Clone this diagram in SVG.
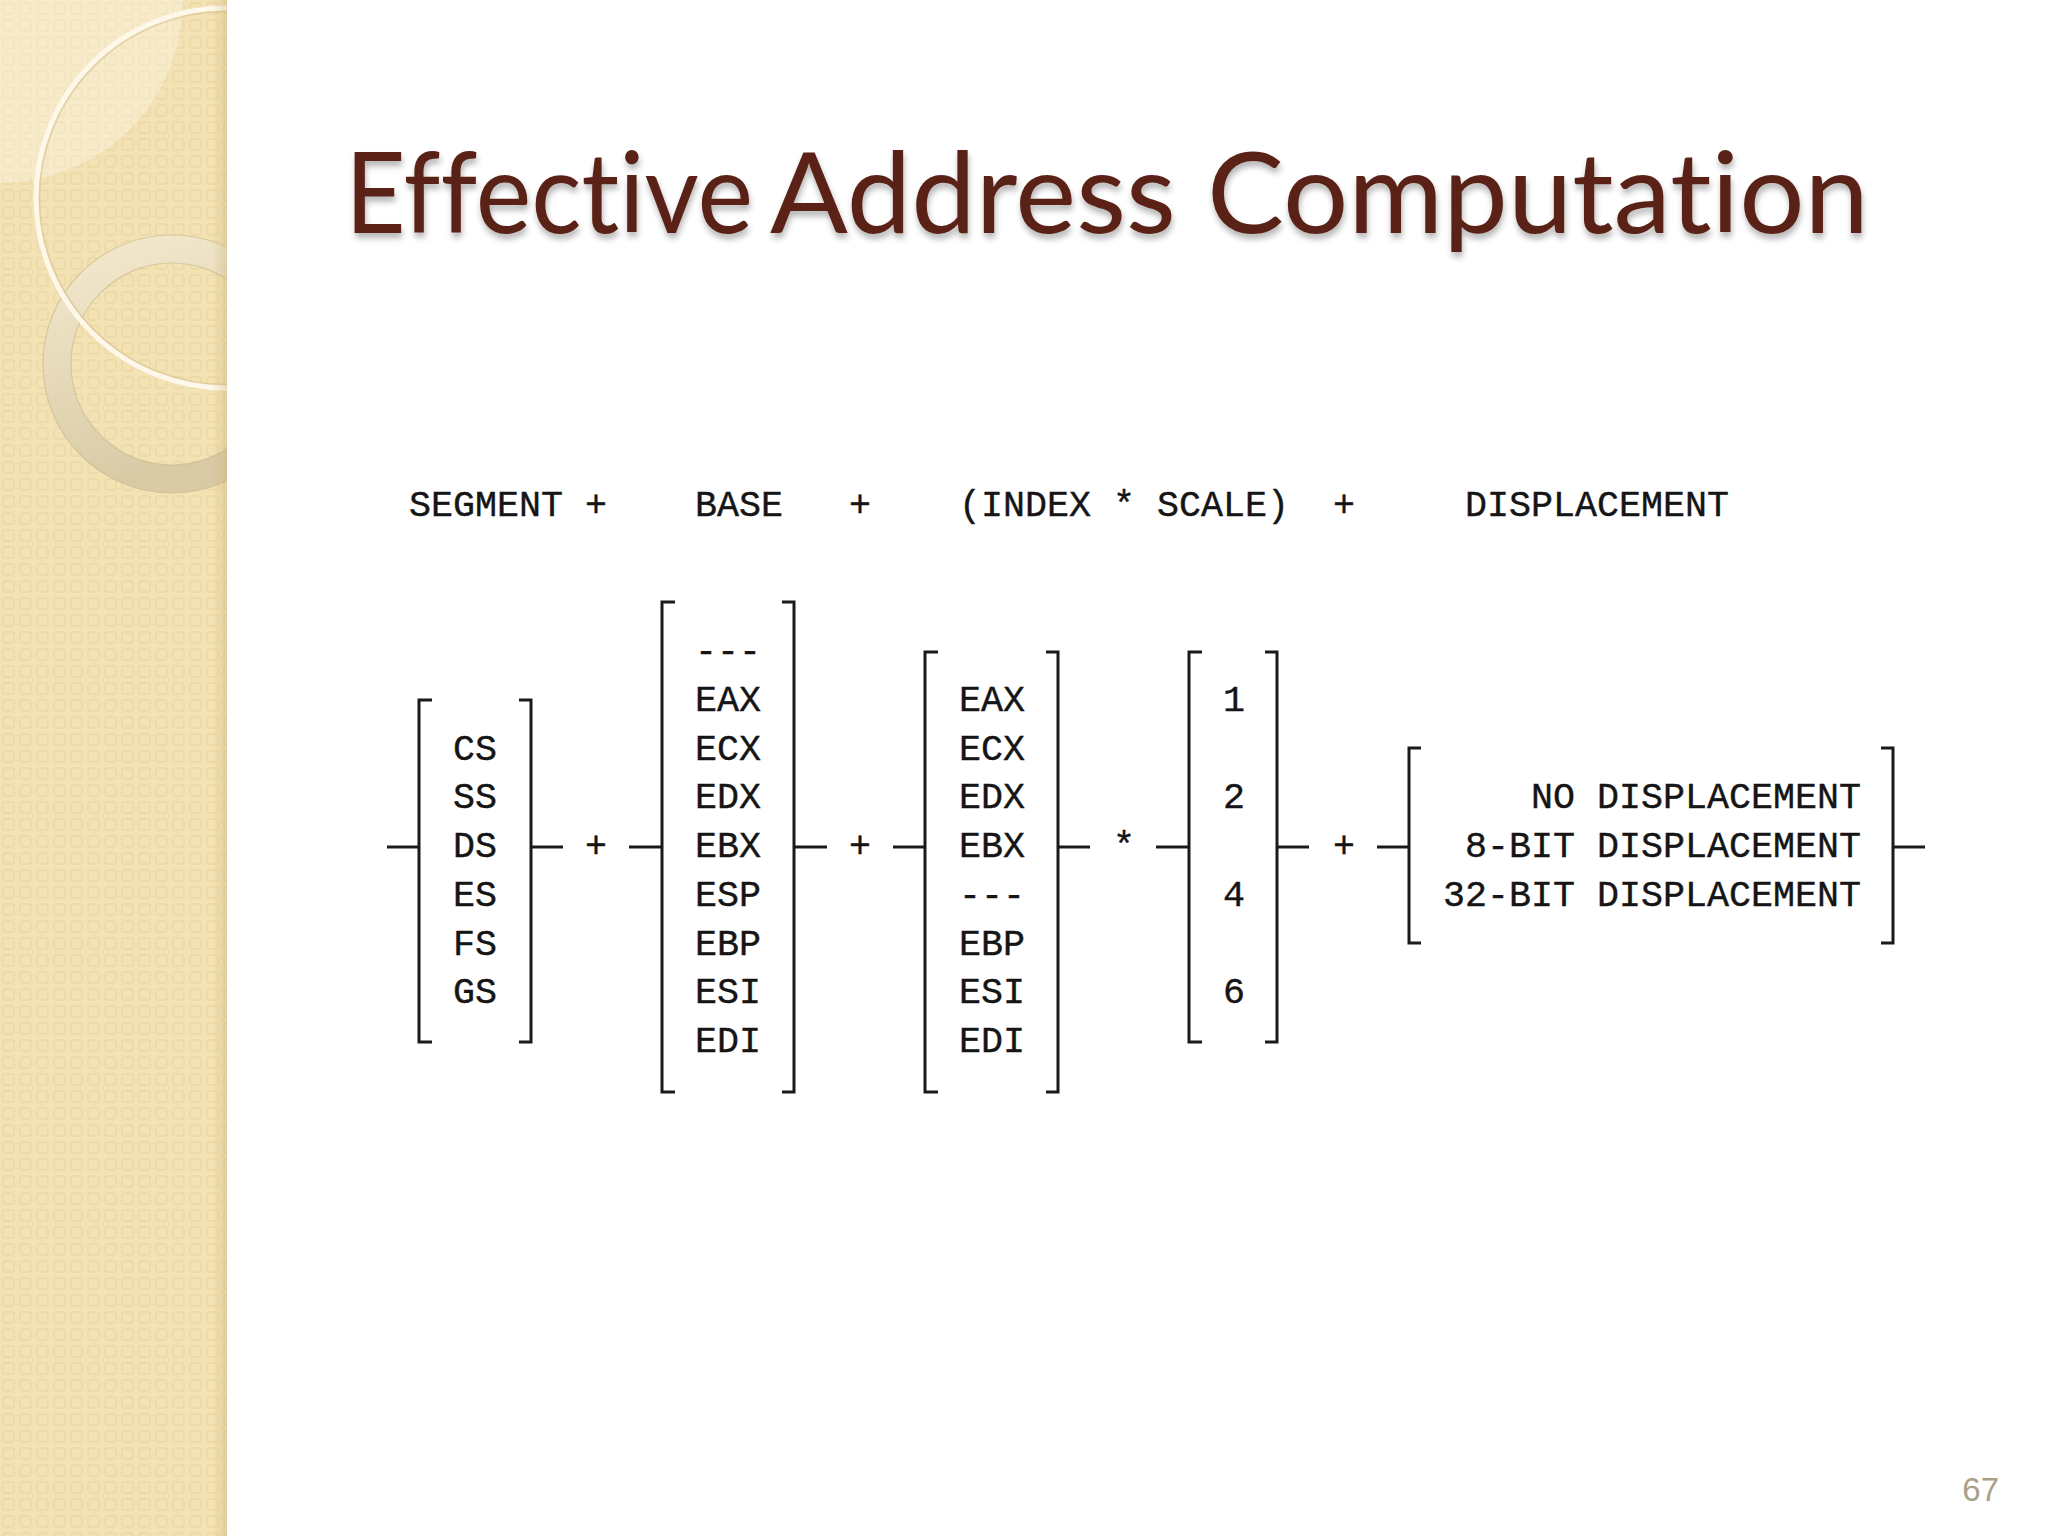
<svg xmlns="http://www.w3.org/2000/svg" width="2048" height="1536" viewBox="0 0 2048 1536">
<defs>
<style>
.t{font-family:"Liberation Mono","DejaVu Sans Mono",monospace;font-size:36.67px;fill:#151515;stroke:#151515;stroke-width:0.4}
.br{fill:none;stroke:#1a1a1a;stroke-width:3}
.ln{stroke:#1a1a1a;stroke-width:3}
.title{font-family:Lato,"Open Sans",sans-serif;font-size:113px;fill:#5a2217;font-variant-ligatures:none}
.pg{font-family:"Liberation Sans",Arial,sans-serif;font-size:33px;fill:#a9a186}
</style>
<pattern id="tex" width="17" height="17" patternUnits="userSpaceOnUse">
<rect width="17" height="17" fill="#f3e2b4"/>
<rect x="3" y="3" width="11" height="11" rx="3" fill="none" stroke="#ebd8a6" stroke-width="1.3"/>
</pattern>
<filter id="sh" x="-5%" y="-20%" width="110%" height="160%">
<feGaussianBlur in="SourceAlpha" stdDeviation="3"/>
<feOffset dx="1" dy="5"/>
<feComponentTransfer><feFuncA type="linear" slope="0.3"/></feComponentTransfer>
<feMerge><feMergeNode/><feMergeNode in="SourceGraphic"/></feMerge>
</filter>
<clipPath id="panel"><rect width="227" height="1536"/></clipPath>
<linearGradient id="ringg" x1="0" y1="0" x2="0.3" y2="1">
<stop offset="0" stop-color="#f3ead2" stop-opacity="0.85"/>
<stop offset="1" stop-color="#d6c8a4" stop-opacity="0.9"/>
</linearGradient>
<linearGradient id="edge" x1="0" y1="0" x2="1" y2="0">
<stop offset="0" stop-color="#c8ac70" stop-opacity="0"/>
<stop offset="1" stop-color="#c8ac70" stop-opacity="0.35"/>
</linearGradient>
</defs>
<rect width="2048" height="1536" fill="#ffffff"/>
<g id="panel-bg" clip-path="url(#panel)">
<rect width="227" height="1536" fill="url(#tex)"/>
<path d="M0 0 H183 A183 183 0 0 1 0 183 Z" fill="#fffaf0" opacity="0.35"/>
<circle cx="172" cy="364" r="115" fill="none" stroke="url(#ringg)" stroke-width="28"/>
<circle cx="172" cy="364" r="129" fill="none" stroke="#c9b78c" stroke-width="1.2" opacity="0.6"/>
<circle cx="172" cy="364" r="101" fill="none" stroke="#c9b78c" stroke-width="1.2" opacity="0.6"/>
<circle cx="226" cy="198" r="190" fill="none" stroke="#fdf8ea" stroke-width="5"/>
<circle cx="226" cy="198" r="186.5" fill="none" stroke="#d8c596" stroke-width="1.5" opacity="0.7"/>
<rect x="212" y="0" width="15" height="1536" fill="url(#edge)"/>
</g>
<text class="title" y="233" filter="url(#sh)"><tspan x="345" textLength="408" lengthAdjust="spacingAndGlyphs">Effective</tspan> <tspan x="770" textLength="406" lengthAdjust="spacingAndGlyphs">Address</tspan> <tspan x="1207" textLength="662" lengthAdjust="spacingAndGlyphs">Computation</tspan></text>
<g id="header">
<text class="t" x="409" y="516">SEGMENT</text>
<text class="t" x="585" y="516">+</text>
<text class="t" x="695" y="516">BASE</text>
<text class="t" x="849" y="516">+</text>
<text class="t" x="959" y="516">(INDEX * SCALE)</text>
<text class="t" x="1333" y="516">+</text>
<text class="t" x="1465" y="516">DISPLACEMENT</text>
</g>
<g id="connectors">
<line class="ln" x1="387" y1="847" x2="419" y2="847"/>
<line class="ln" x1="531" y1="847" x2="563" y2="847"/>
<line class="ln" x1="629" y1="847" x2="662" y2="847"/>
<line class="ln" x1="794" y1="847" x2="827" y2="847"/>
<line class="ln" x1="893" y1="847" x2="925" y2="847"/>
<line class="ln" x1="1058" y1="847" x2="1090" y2="847"/>
<line class="ln" x1="1156" y1="847" x2="1189" y2="847"/>
<line class="ln" x1="1277" y1="847" x2="1309" y2="847"/>
<line class="ln" x1="1377" y1="847" x2="1409" y2="847"/>
<line class="ln" x1="1893" y1="847" x2="1925" y2="847"/>
</g>
<g id="operators">
<text class="t" x="585" y="857">+</text>
<text class="t" x="849" y="857">+</text>
<text class="t" x="1113" y="857">*</text>
<text class="t" x="1333" y="857">+</text>
</g>
<g id="segment">
<path class="br" d="M432 700 H419 V1042 H432"/>
<path class="br" d="M519 700 H531 V1042 H519"/>
<text class="t" x="453" y="759.5">CS</text>
<text class="t" x="453" y="808.25">SS</text>
<text class="t" x="453" y="857">DS</text>
<text class="t" x="453" y="905.75">ES</text>
<text class="t" x="453" y="954.5">FS</text>
<text class="t" x="453" y="1003.25">GS</text>
</g>
<g id="base">
<path class="br" d="M675 602 H662 V1092 H675"/>
<path class="br" d="M782 602 H794 V1092 H782"/>
<text class="t" x="695" y="662">---</text>
<text class="t" x="695" y="710.75">EAX</text>
<text class="t" x="695" y="759.5">ECX</text>
<text class="t" x="695" y="808.25">EDX</text>
<text class="t" x="695" y="857">EBX</text>
<text class="t" x="695" y="905.75">ESP</text>
<text class="t" x="695" y="954.5">EBP</text>
<text class="t" x="695" y="1003.25">ESI</text>
<text class="t" x="695" y="1052">EDI</text>
</g>
<g id="index">
<path class="br" d="M938 652 H925 V1092 H938"/>
<path class="br" d="M1046 652 H1058 V1092 H1046"/>
<text class="t" x="959" y="710.75">EAX</text>
<text class="t" x="959" y="759.5">ECX</text>
<text class="t" x="959" y="808.25">EDX</text>
<text class="t" x="959" y="857">EBX</text>
<text class="t" x="959" y="905.75">---</text>
<text class="t" x="959" y="954.5">EBP</text>
<text class="t" x="959" y="1003.25">ESI</text>
<text class="t" x="959" y="1052">EDI</text>
</g>
<g id="scale">
<path class="br" d="M1202 652 H1189 V1042 H1202"/>
<path class="br" d="M1265 652 H1277 V1042 H1265"/>
<text class="t" x="1223" y="710.75">1</text>
<text class="t" x="1223" y="808.25">2</text>
<text class="t" x="1223" y="905.75">4</text>
<text class="t" x="1223" y="1003.25">6</text>
</g>
<g id="displacement">
<path class="br" d="M1421 748 H1409 V943 H1421"/>
<path class="br" d="M1881 748 H1893 V943 H1881"/>
<text class="t" x="1861" y="808.25" text-anchor="end">NO DISPLACEMENT</text>
<text class="t" x="1861" y="857" text-anchor="end">8-BIT DISPLACEMENT</text>
<text class="t" x="1861" y="905.75" text-anchor="end">32-BIT DISPLACEMENT</text>
</g>
<text class="pg" x="1999" y="1501" text-anchor="end">67</text>
</svg>
